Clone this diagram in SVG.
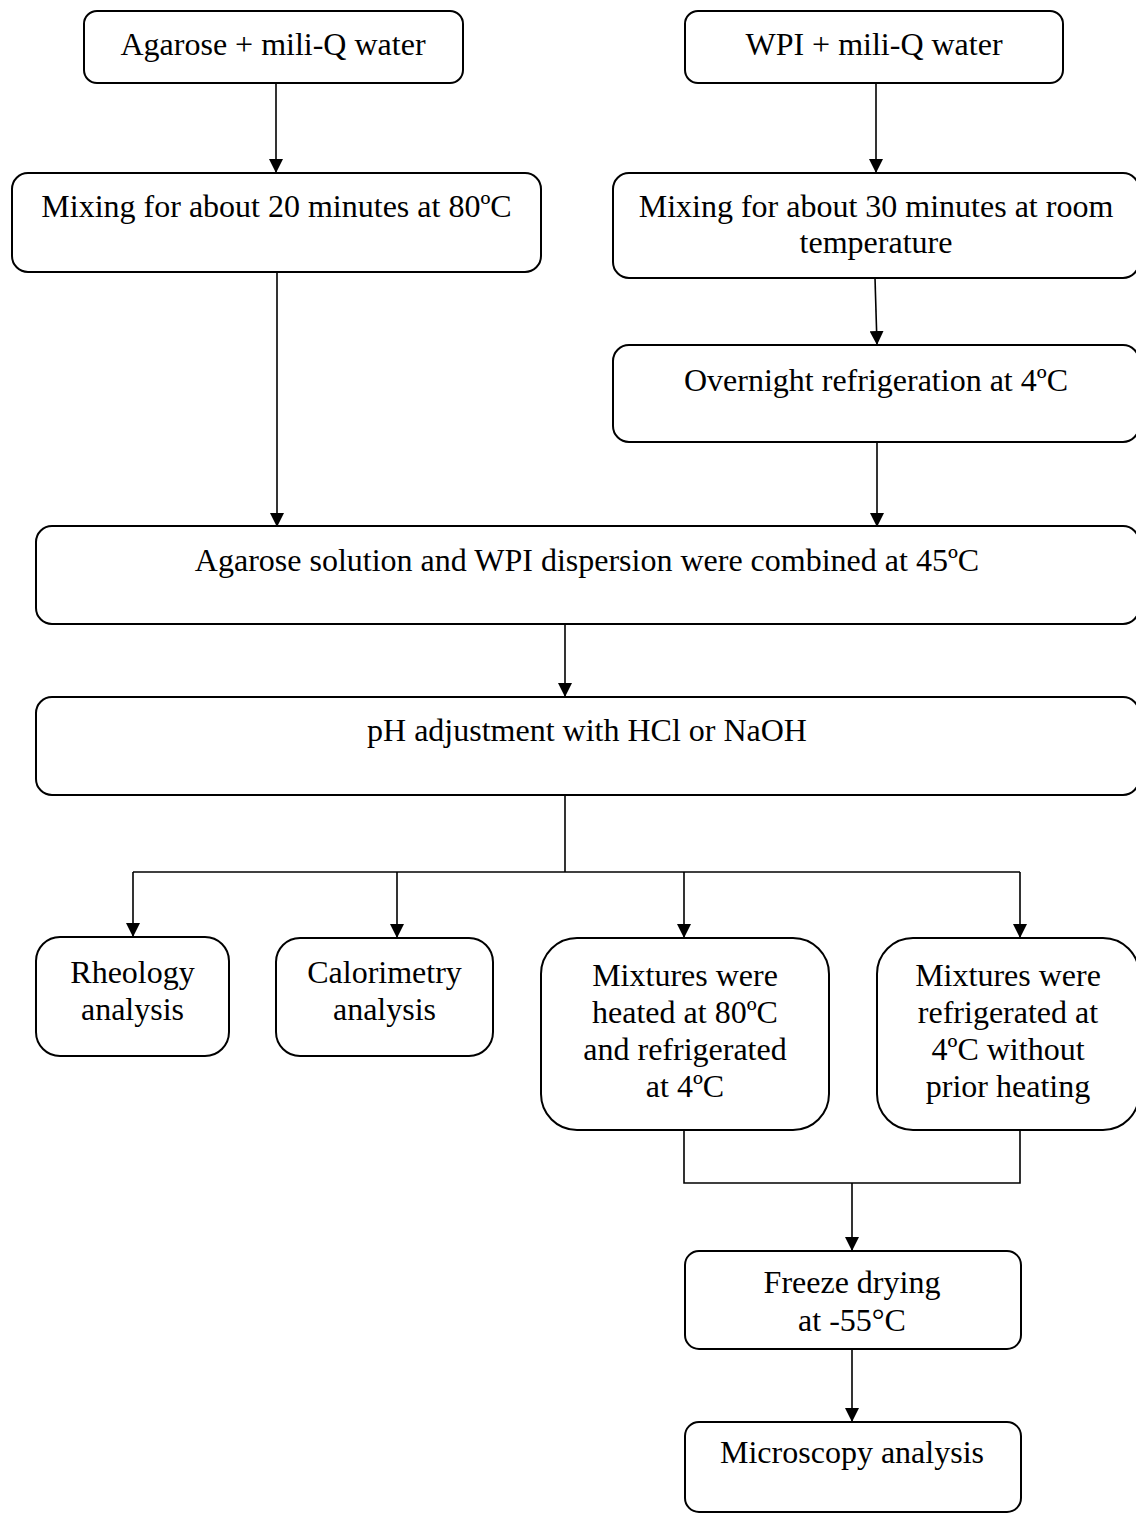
<svg xmlns="http://www.w3.org/2000/svg" width="1136" height="1513" viewBox="0 0 1136 1513">
<style>
.box{fill:#fff;stroke:#000;stroke-width:2}
.t{font-family:"Liberation Serif","Times New Roman",serif;font-size:32px;fill:#000;text-anchor:middle}
.c{fill:none;stroke:#000;stroke-width:1.6}
</style>
<defs>
<marker id="ah" viewBox="0 0 14 14" refX="14" refY="7" markerWidth="14" markerHeight="14" markerUnits="userSpaceOnUse" orient="auto">
<path d="M0,0 L14,7 L0,14 z" fill="#000"/>
</marker>
</defs>
<rect width="1136" height="1513" fill="#fff"/>
<g id="connectors">
<path class="c" d="M276,83 V173" marker-end="url(#ah)"/>
<path class="c" d="M876,83 V173" marker-end="url(#ah)"/>
<path class="c" d="M875,278 L877,345" marker-end="url(#ah)"/>
<path class="c" d="M277,272 V527" marker-end="url(#ah)"/>
<path class="c" d="M877,442 V527" marker-end="url(#ah)"/>
<path class="c" d="M565,624 V697" marker-end="url(#ah)"/>
<path class="c" d="M565,793 V872"/>
<path class="c" d="M133,872 H1020"/>
<path class="c" d="M133,872 V937" marker-end="url(#ah)"/>
<path class="c" d="M397,872 V938" marker-end="url(#ah)"/>
<path class="c" d="M684,872 V938" marker-end="url(#ah)"/>
<path class="c" d="M1020,872 V938" marker-end="url(#ah)"/>
<path class="c" d="M684,1128 V1183 H1020 V1128"/>
<path class="c" d="M852,1183 V1251" marker-end="url(#ah)"/>
<path class="c" d="M852,1349 V1422" marker-end="url(#ah)"/>
</g>
<g id="n1"><rect class="box" x="84" y="11" width="379" height="72" rx="13"/><text class="t" x="273" y="55">Agarose + mili-Q water</text></g>
<g id="n2"><rect class="box" x="685" y="11" width="378" height="72" rx="13"/><text class="t" x="874" y="55">WPI + mili-Q water</text></g>
<g id="n3"><rect class="box" x="12" y="173" width="529" height="99" rx="16"/><text class="t" x="276.5" y="217">Mixing for about 20 minutes at 80ºC</text></g>
<g id="n4"><rect class="box" x="613" y="173" width="526" height="105" rx="16"/><text class="t" x="876" y="217">Mixing for about 30 minutes at room</text><text class="t" x="876" y="253">temperature</text></g>
<g id="n5"><rect class="box" x="613" y="345" width="526" height="97" rx="16"/><text class="t" x="876" y="391">Overnight refrigeration at 4ºC</text></g>
<g id="n6"><rect class="box" x="36" y="526" width="1103" height="98" rx="16"/><text class="t" x="587" y="571">Agarose solution and WPI dispersion were combined at 45ºC</text></g>
<g id="n7"><rect class="box" x="36" y="697" width="1103" height="98" rx="16"/><text class="t" x="587" y="741">pH adjustment with HCl or NaOH</text></g>
<g id="n8"><rect class="box" x="36" y="937" width="193" height="119" rx="24"/><text class="t" x="132.5" y="983">Rheology</text><text class="t" x="132.5" y="1020">analysis</text></g>
<g id="n9"><rect class="box" x="276" y="938" width="217" height="118" rx="24"/><text class="t" x="384.5" y="983">Calorimetry</text><text class="t" x="384.5" y="1020">analysis</text></g>
<g id="n10"><rect class="box" x="541" y="938" width="288" height="192" rx="36"/><text class="t" x="685" y="986">Mixtures were</text><text class="t" x="685" y="1023">heated at 80ºC</text><text class="t" x="685" y="1060">and refrigerated</text><text class="t" x="685" y="1097">at 4ºC</text></g>
<g id="n11"><rect class="box" x="877" y="938" width="262" height="192" rx="36"/><text class="t" x="1008" y="986">Mixtures were</text><text class="t" x="1008" y="1023">refrigerated at</text><text class="t" x="1008" y="1060">4ºC without</text><text class="t" x="1008" y="1097">prior heating</text></g>
<g id="n12"><rect class="box" x="685" y="1251" width="336" height="98" rx="14"/><text class="t" x="852" y="1293">Freeze drying</text><text class="t" x="852" y="1331">at -55°C</text></g>
<g id="n13"><rect class="box" x="685" y="1422" width="336" height="90" rx="14"/><text class="t" x="852" y="1463">Microscopy analysis</text></g>
</svg>
